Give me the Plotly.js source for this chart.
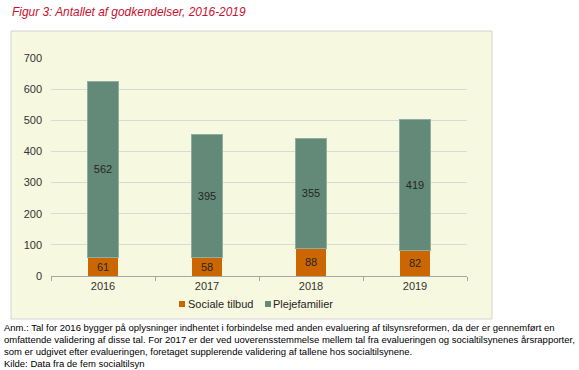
<!DOCTYPE html>
<html>
<head>
<meta charset="utf-8">
<script src="https://cdn.plot.ly/plotly-3.0.1.min.js"></script>
<style>html,body{margin:0;padding:0;background:#fff;}#chart{width:579px;height:370px;}</style>
</head>
<body>
<div id="chart"></div>
<script>
const years = ['2016', '2017', '2018', '2019'];
const socialeTilbud = [61, 58, 88, 82];
const plejefamilier = [562, 395, 355, 419];
const yTicks = [0, 100, 200, 300, 400, 500, 600, 700];
const seriesNames = ['Sociale tilbud', 'Plejefamilier'];
const titleText = 'Figur 3: Antallet af godkendelser, 2016-2019';
const noteLines = [
  'Anm.: Tal for 2016 bygger på oplysninger indhentet i forbindelse med anden evaluering af tilsynsreformen, da der er gennemført en',
  'omfattende validering af disse tal. For 2017 er der ved uoverensstemmelse mellem tal fra evalueringen og socialtilsynenes årsrapporter,',
  'som er udgivet efter evalueringen, foretaget supplerende validering af tallene hos socialtilsynene.',
  'Kilde: Data fra de fem socialtilsyn'
];

const font = 'Arial, "Liberation Sans", sans-serif';
const colors = ['#CC6600', '#638A78'];
const W = 579, H = 370;
const L = 51, R = 467, T = 58, B = 276;
const pw = R - L, ph = B - T;
const px = x => (x - L) / pw;
const py = y => (B - y) / ph;

const traces = [
  {
    type: 'bar', name: seriesNames[0], x: years, y: socialeTilbud,
    marker: {color: colors[0]},
    text: socialeTilbud.map(String), textposition: 'inside', insidetextanchor: 'middle',
    textfont: {family: font, size: 11, color: '#262626'}, hoverinfo: 'name+y'
  },
  {
    type: 'bar', name: seriesNames[1], x: years, y: plejefamilier,
    marker: {color: colors[1], line: {color: '#8FAE9F', width: 1}},
    text: plejefamilier.map(String), textposition: 'inside', insidetextanchor: 'middle',
    textfont: {family: font, size: 11, color: '#262626'}, hoverinfo: 'name+y'
  }
];

const annotations = noteLines.map((t, i) => ({
  text: t, xref: 'paper', yref: 'paper', x: px(2), y: py(327 + i * 12),
  xanchor: 'left', yanchor: 'middle', showarrow: false, align: 'left',
  font: {family: font, size: 9.5, color: '#000'}
}));

// compact legend (small squares next to the labels, as in the original)
const legendItems = [{sq: 179, tx: 186}, {sq: 265, tx: 271}];
const legendY = 304;
const shapes = [{
  type: 'rect', xref: 'paper', yref: 'paper', layer: 'below',
  x0: px(11), x1: px(492), y0: py(319), y1: py(31),
  fillcolor: '#F6F8DF', line: {color: '#D4D4D4', width: 1}
}];
legendItems.forEach((it, i) => {
  shapes.push({
    type: 'rect', xref: 'paper', yref: 'paper',
    x0: px(it.sq), x1: px(it.sq + 6), y0: py(legendY + 3), y1: py(legendY - 3),
    fillcolor: colors[i], line: {width: 0}
  });
  annotations.push({
    text: seriesNames[i], xref: 'paper', yref: 'paper', x: px(it.tx), y: py(legendY),
    xanchor: 'left', yanchor: 'middle', showarrow: false,
    font: {family: font, size: 11, color: '#262626'}
  });
});

const layout = {
  width: W, height: H,
  margin: {l: L, r: W - R, t: T, b: H - B, pad: 0},
  paper_bgcolor: '#ffffff',
  plot_bgcolor: 'rgba(0,0,0,0)',
  barmode: 'stack',
  bargap: 0.71,
  showlegend: false,
  title: {
    text: titleText, xref: 'container', yref: 'container',
    x: 12 / W, xanchor: 'left', y: 1 - 12 / H, yanchor: 'middle',
    font: {family: font, size: 11.9, color: '#C8102E', style: 'italic'}
  },
  xaxis: {
    type: 'category', showgrid: false, showline: true, linecolor: '#A6A6A6', linewidth: 1,
    ticks: 'outside', tickson: 'boundaries', ticklen: 4, tickcolor: '#A6A6A6',
    tickfont: {family: font, size: 11, color: '#333'}, fixedrange: true
  },
  yaxis: {
    range: [0, 700], tickvals: yTicks, showgrid: true, gridcolor: '#D9D9D9', gridwidth: 1,
    zeroline: false, showline: false, ticks: '', ticklabelstandoff: 8,
    tickfont: {family: font, size: 11, color: '#333'}, fixedrange: true
  },
  shapes: shapes,
  annotations: annotations
};

Plotly.newPlot('chart', traces, layout, {displayModeBar: false, staticPlot: true});
</script>
</body>
</html>
